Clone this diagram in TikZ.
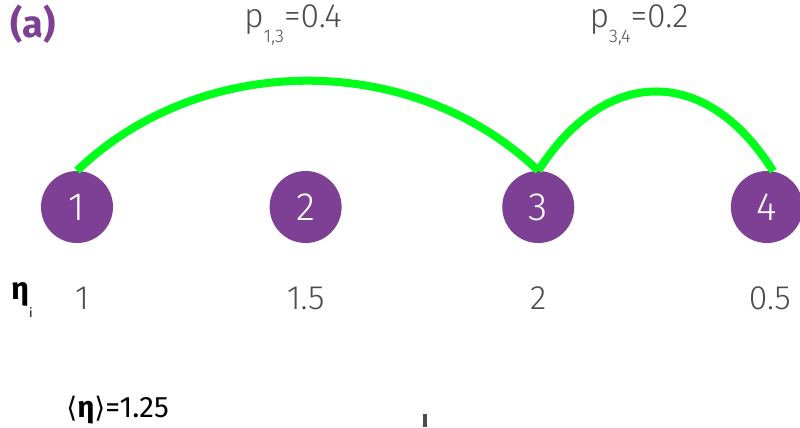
\documentclass[tikz,border=0pt]{standalone}
\usepackage{fontspec}
\setmainfont{Fira Sans}[UprightFont=* Light, BoldFont=* SemiBold]
\newfontfamily\plainfont{Fira Sans}
\newfontfamily\symfont{DejaVu Sans}
\usepackage{tikz}
\usetikzlibrary{positioning,calc}
\definecolor{sitepurple}{HTML}{7E4095}
\definecolor{linkgreen}{HTML}{00FF1A}
\definecolor{labelgray}{HTML}{4D4D4D}
\tikzset{
  site/.style={circle, fill=sitepurple, draw=none, minimum size=1.8cm, inner sep=0pt, text=white, font=\fontsize{28}{30}\selectfont},
  vallabel/.style={text=labelgray, font=\fontsize{24}{26}\selectfont, inner sep=0pt},
  problabel/.style={text=labelgray, font=\fontsize{24}{26}\selectfont, inner sep=0pt},
  link/.style={draw=linkgreen, line width=5.7pt}
}
\newcommand{\subidx}[1]{\raisebox{-0.8ex}{\fontsize{13}{14}\selectfont #1}}

\begin{document}
\begin{tikzpicture}[x=0.025cm, y=-0.025cm]
  \useasboundingbox (0,0) rectangle (800,427);
  \node[text=sitepurple, font=\plainfont\fontsize{27}{30}\selectfont\bfseries, inner sep=0pt] (panel) at (33,24) {(a)};
  \node[site] (n1) at (77,207) {1};
  \node[site, right=3.9cm of n1] (n2) {2};
  \node[site, right=4.0cm of n2] (n3) {3};
  \node[site, right=3.9cm of n3] (n4) {4};
  \draw[link] (n1.north) .. controls +(125,-120) and +(-125,-120) .. (n3.north);
  \draw[link] (n3.north) .. controls +(68,-106) and +(-66,-106) .. (n4.80);
  \node[problabel] (p13) at (293,25) {p\subidx{1,3}=0.4};
  \node[problabel] (p34) at (639,25) {p\subidx{3,4}=0.2};
  \node[text=black, inner sep=0pt] (eta) at (22,300) {\plainfont\fontsize{22}{24}\selectfont\bfseries η\raisebox{-1.1ex}{\fontsize{9}{10}\selectfont\mdseries i}};
  \node[vallabel] (v1) at ($(n1)+(5,91)$) {1};
  \node[vallabel] (v2) at ($(n2)+(0,91)$) {1.5};
  \node[vallabel] (v3) at ($(n3)+(0,91)$) {2};
  \node[vallabel] (v4) at ($(n4)+(3,91)$) {0.5};
  \node[text=black, inner sep=0pt, anchor=west] (mean) at (66,410) {\plainfont\fontsize{21}{23}\selectfont{\symfont\fontsize{20}{22}\selectfont ⟨}\textbf{η}{\symfont\fontsize{20}{22}\selectfont ⟩}=1.25};
  \fill[labelgray] (423,414) rectangle (427,427);
\end{tikzpicture}
\end{document}
